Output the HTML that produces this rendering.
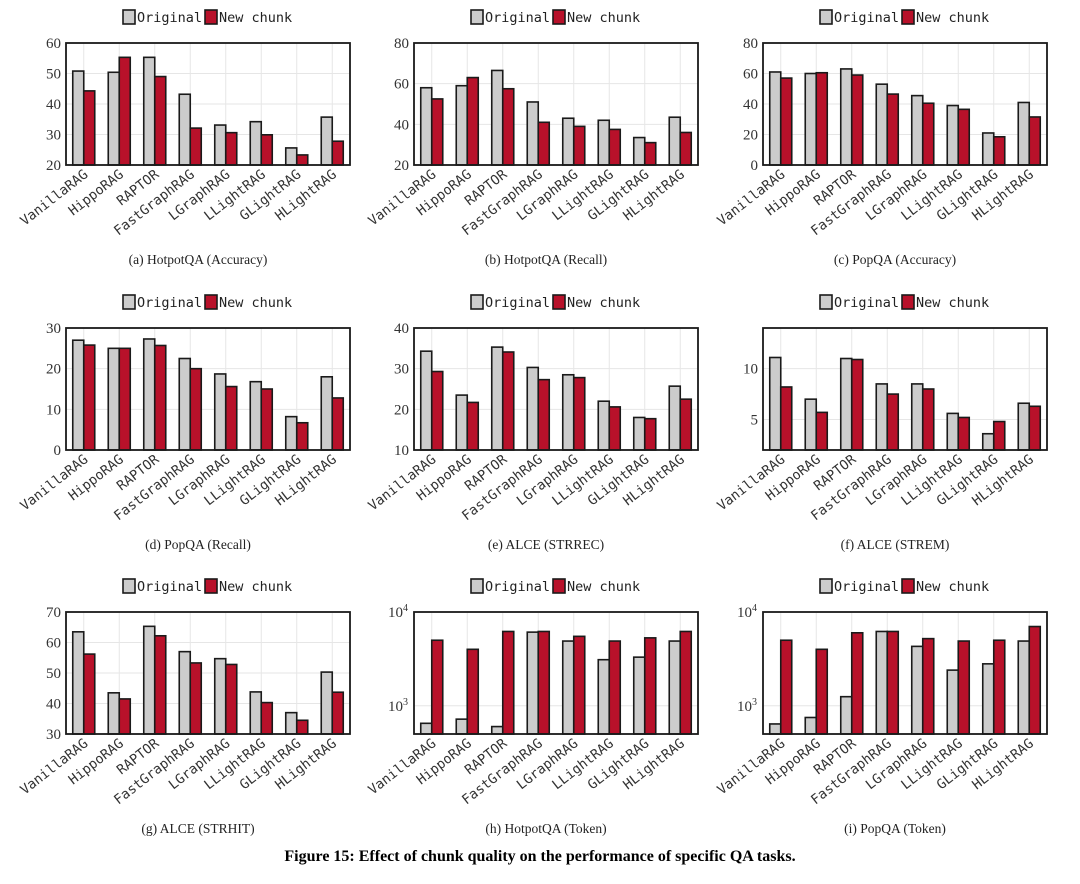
<!DOCTYPE html>
<html><head><meta charset="utf-8">
<style>
html,body{margin:0;padding:0;background:#fff;}
svg text{font-family:"Liberation Serif",serif;}
.mono{font-family:"DejaVu Sans Mono","Liberation Mono",monospace;}
</style></head>
<body>
<svg id="fig" width="1080" height="879" viewBox="0 0 1080 879" xmlns="http://www.w3.org/2000/svg">
<text x="540" y="861" text-anchor="middle" font-size="16" font-weight="bold">Figure 15: Effect of chunk quality on the performance of specific QA tasks.</text>
</svg>
<script>
const categories = ["VanillaRAG","HippoRAG","RAPTOR","FastGraphRAG","LGraphRAG","LLightRAG","GLightRAG","HLightRAG"];
const seriesNames = ["Original","New chunk"];
const captions = ["(a)  HotpotQA (Accuracy)","(b)  HotpotQA (Recall)","(c)  PopQA (Accuracy)","(d)  PopQA (Recall)","(e)  ALCE (STRREC)","(f)  ALCE (STREM)","(g)  ALCE (STRHIT)","(h)  HotpotQA (Token)","(i)  PopQA (Token)"];
const origA = [50.8,50.4,55.3,43.2,33.1,34.2,25.6,35.7];
const newA  = [44.3,55.3,49.0,32.1,30.6,29.9,23.3,27.8];
const origB = [58,59,66.5,51,43,42,33.5,43.5];
const newB  = [52.5,63,57.5,41,39,37.5,31,36];
const origC = [61,60,63,53,45.5,39,21,41];
const newC  = [57,60.5,59,46.5,40.5,36.5,18.5,31.5];
const origD = [27,25,27.3,22.5,18.7,16.8,8.2,18];
const newD  = [25.8,25,25.7,20,15.6,15,6.7,12.8];
const origE = [34.3,23.5,35.3,30.3,28.5,22,18,25.7];
const newE  = [29.3,21.7,34.1,27.3,27.8,20.6,17.7,22.5];
const origF = [11.1,7.0,11.0,8.5,8.5,5.6,3.6,6.6];
const newF  = [8.2,5.7,10.9,7.5,8.0,5.2,4.8,6.3];
const origG = [63.5,43.5,65.3,57,54.7,43.8,37,50.3];
const newG  = [56.2,41.5,62.2,53.3,52.8,40.3,34.5,43.7];
const origH = [650,720,600,6100,4900,3100,3300,4900];
const newH  = [5000,4000,6200,6200,5500,4900,5300,6200];
const origI = [640,750,1250,6200,4300,2400,2800,4900];
const newI  = [5000,4000,6000,6200,5200,4900,5000,7000];
const yMins = [20,20,0,0,10,2,30,500,500];
const yMaxs = [60,80,80,30,40,14,70,10000,10000];
const yTicksList = [[20,30,40,50,60],[20,40,60,80],[0,20,40,60,80],[0,10,20,30],[10,20,30,40],[5,10],[30,40,50,60,70],[1000,10000],[1000,10000]];
const panelData = [[origA,newA],[origB,newB],[origC,newC],[origD,newD],[origE,newE],[origF,newF],[origG,newG],[origH,newH],[origI,newI]];

const NS="http://www.w3.org/2000/svg";
const svg=document.getElementById('fig');
function mk(tag,attrs,parent){const e=document.createElementNS(NS,tag);for(const k in attrs)e.setAttribute(k,attrs[k]);(parent||svg).appendChild(e);return e;}
const colLeft=[66,414,763], rowTop=[43,328,612], PW=284, PH=122;
const colors=["#cccccc","#b8112a"];
panelData.forEach((pd,p)=>{
  const col=p%3,row=Math.floor(p/3);
  const x0=colLeft[col],y0=rowTop[row],x1=x0+PW,y1=y0+PH;
  const isLog=p>=7;
  const g=mk('g',{});
  
  
  const yScale=v=>{
    if(isLog){const a=Math.log10(yMins[p]),b=Math.log10(yMaxs[p]);return y1-(Math.log10(v)-a)/(b-a)*PH;}
    return y1-(v-yMins[p])/(yMaxs[p]-yMins[p])*PH;
  };
  const gw=PW/categories.length;
  const xScale=i=>x0+gw*(i+0.5);
  categories.forEach((c,i)=>{const gl=mk('line',{x1:xScale(i),x2:xScale(i),y1:y0,y2:y1,stroke:'#e6e6e6','stroke-width':1},g);});
  yTicksList[p].forEach(t=>{
    const y=yScale(t);
    const gl=mk('line',{x1:x0,x2:x1,y1:y,y2:y,stroke:'#e6e6e6','stroke-width':1},g);
    
    let lab;
    if(isLog){
      lab=mk('text',{x:x0-6,y:y+5,'text-anchor':'end','font-size':15,fill:'#333'},g);
      lab.textContent='10';
      const sup=mk('tspan',{dy:-6,'font-size':10},lab);sup.textContent=String(Math.round(Math.log10(t)));
    } else {
      lab=mk('text',{x:x0-5,y:y+5,'text-anchor':'end','font-size':15,fill:'#333'},g);
      lab.textContent=String(t);
    }
    
  });
  const bw=11;
  pd.forEach((series,s)=>{
    series.forEach((v,i)=>{
      const bx=xScale(i)-bw+s*bw, by=yScale(v);
      const r=mk('rect',{x:bx,y:by,width:bw,height:Math.max(0,y1-by),fill:colors[s],stroke:'#1a1a1a','stroke-width':1.6},g);
      
      
    });
  });
  const fr=mk('rect',{x:x0,y:y0,width:PW,height:PH,fill:'none',stroke:'#1a1a1a','stroke-width':1.8},g);
  
  categories.forEach((c,i)=>{
    const tx=xScale(i)+5, ty=y1+11;
    const t=mk('text',{x:tx,y:ty,'text-anchor':'end','font-size':13.5,fill:'#333',class:'mono',transform:`rotate(-38 ${tx} ${ty})`},g);
    t.textContent=c;
    
  });
  const lx=x0+57, ly=y0-33;
  seriesNames.forEach((n,s)=>{
    const bx=lx+s*82;
    const r=mk('rect',{x:bx,y:ly,width:12,height:14,fill:colors[s],stroke:'#1a1a1a','stroke-width':1.6},g);
    
    const t=mk('text',{x:bx+14,y:ly+12,'font-size':13.5,fill:'#222',class:'mono'},g);
    t.textContent=n;
    
  });
  const cap=mk('text',{x:x0+PW/2-10,y:y0+221,'text-anchor':'middle','font-size':13.5,fill:'#222','xml:space':'preserve'},g);
  cap.textContent=captions[p];
  
});
</script>
</body></html>
